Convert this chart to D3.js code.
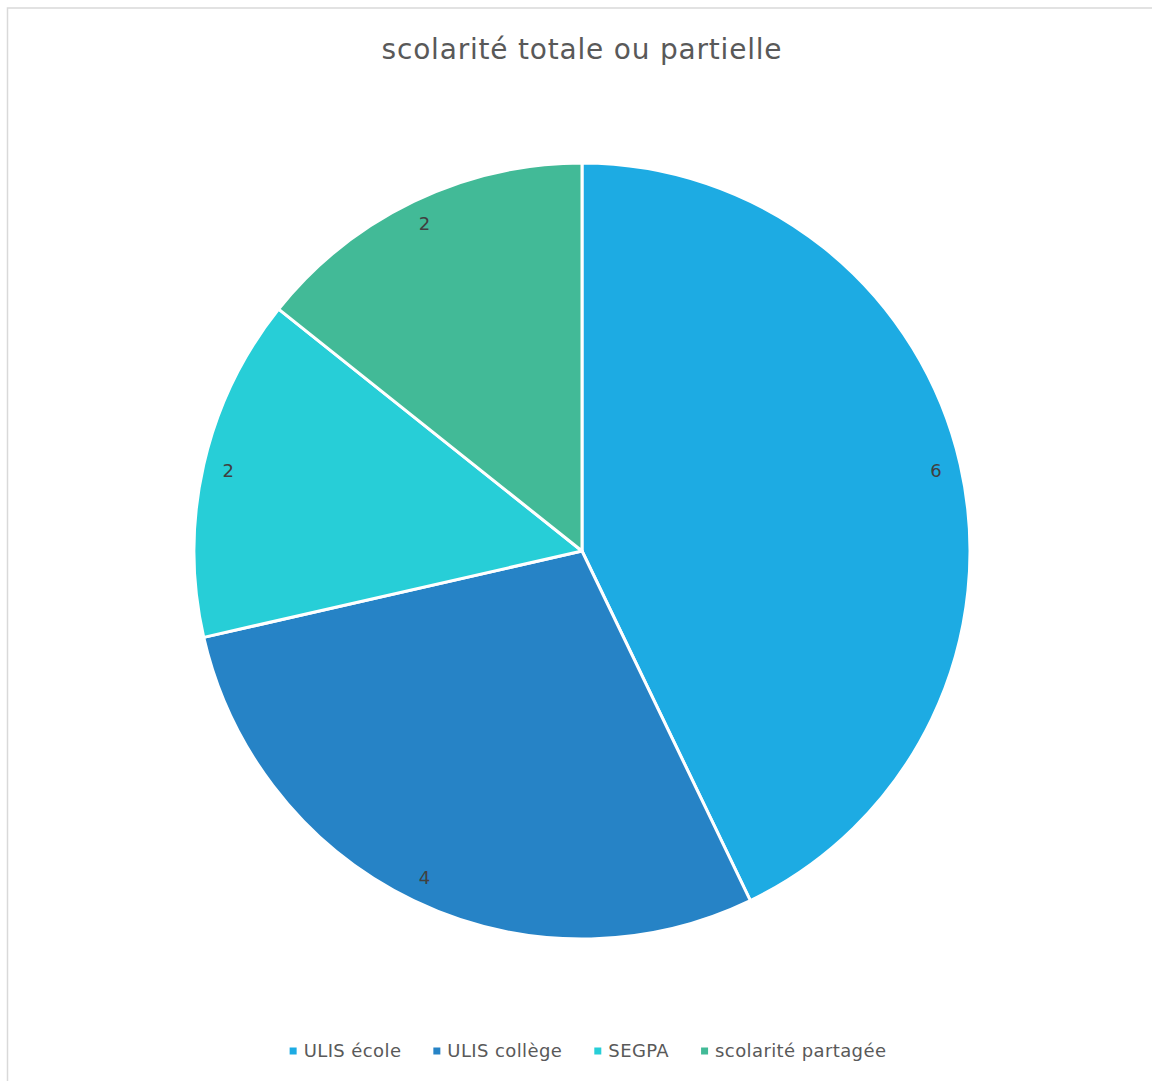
<!DOCTYPE html>
<html>
<head>
<meta charset="utf-8">
<script src="https://cdn.jsdelivr.net/npm/d3@7"></script>
<style>
  body { margin: 0; background: #fff; }
  svg { display: block; }
</style>
</head>
<body>
<svg id="chart"></svg>
<script>
// chart data
const title = "scolarité totale ou partielle";
const categories = ["ULIS école", "ULIS collège", "SEGPA", "scolarité partagée"];
const values = [6, 4, 2, 2];
const colors = ["#1DABE3", "#2683C6", "#27CED7", "#42BA97"];

const width = 1152, height = 1081;
const cx = 582, cy = 551, radius = 388;
const fontFamily = "'DejaVu Sans', sans-serif";

const svg = d3.select("#chart")
    .attr("width", width)
    .attr("height", height);

// chart area border (runs off the right and bottom edges)
svg.append("rect")
    .attr("x", 7.5)
    .attr("y", 8)
    .attr("width", width + 20)
    .attr("height", height + 20)
    .attr("fill", "#fff")
    .attr("stroke", "#d9d9d9")
    .attr("stroke-width", 1.5);

// title
svg.append("text")
    .attr("x", cx)
    .attr("y", 59)
    .attr("text-anchor", "middle")
    .style("font-family", fontFamily)
    .style("font-size", "28px")
    .style("letter-spacing", "0.8px")
    .style("fill", "#595959")
    .text(title);

const data = categories.map((c, i) => ({name: c, value: values[i], color: colors[i]}));

const pie = d3.pie()
    .sort(null)
    .value(d => d.value);

const arc = d3.arc()
    .innerRadius(0)
    .outerRadius(radius);

const g = svg.append("g")
    .attr("transform", `translate(${cx},${cy})`);

const arcs = pie(data);

g.selectAll("path")
    .data(arcs)
    .enter().append("path")
    .attr("d", arc)
    .attr("fill", d => d.data.color)
    .attr("stroke", "#fff")
    .attr("stroke-width", 3)
    .attr("stroke-linejoin", "round");

// data labels, near the outer edge
g.selectAll(".label")
    .data(arcs)
    .enter().append("text")
    .attr("class", "label")
    .attr("transform", d => {
        const a = (d.startAngle + d.endAngle) / 2;
        const r = radius - 25;
        return `translate(${Math.sin(a) * r},${-Math.cos(a) * r})`;
    })
    .attr("text-anchor", "middle")
    .attr("dy", "0.35em")
    .style("font-family", fontFamily)
    .style("font-size", "18px")
    .style("fill", "#404040")
    .text(d => d.data.value);

// legend, centered under the pie
const legend = svg.append("g");
const items = legend.selectAll(".legend")
    .data(data)
    .enter().append("g")
    .attr("class", "legend");

items.append("rect")
    .attr("width", 7)
    .attr("height", 7)
    .attr("y", -3.5)
    .attr("fill", d => d.color);

items.append("text")
    .attr("x", 14)
    .attr("dy", "0.35em")
    .style("font-family", fontFamily)
    .style("font-size", "18px")
    .style("letter-spacing", "0.4px")
    .style("fill", "#595959")
    .text(d => d.name);

let xPos = 0;
const gap = 32;
items.each(function() {
    const item = d3.select(this);
    const w = 14 + item.select("text").node().getComputedTextLength();
    item.attr("transform", `translate(${xPos},0)`);
    xPos += w + gap;
});
const totalW = xPos - gap;
legend.attr("transform", `translate(${cx + 6 - totalW / 2},1051)`);
</script>
</body>
</html>
